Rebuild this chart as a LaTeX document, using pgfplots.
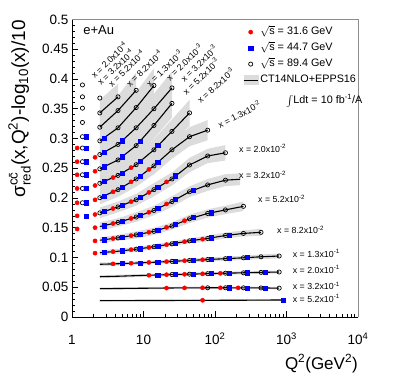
\documentclass[border=0pt]{standalone}
\usepackage{amsmath}
\usepackage{fontspec}
\setmainfont{Liberation Sans}
\usepackage{pgfplots}
\usepackage{pgfplotstable}
\pgfplotsset{compat=1.18}
\usepgfplotslibrary{fillbetween}
\definecolor{rred}{RGB}{255,0,0}
\definecolor{rblue}{RGB}{0,0,255}
\definecolor{bandgray}{HTML}{DCDCDC}
\definecolor{framegray}{HTML}{8C8C8C}

% theory curves: Q2, value, band low, band high
\pgfplotstableread{
q y lo hi
2.45 0.343 0.321 0.365
4.4 0.370 0.348 0.392
}\tA
\pgfplotstableread{
q y lo hi
2.45 0.319 0.297 0.341
4.4 0.347 0.322 0.372
7.9 0.381 0.351 0.411
}\tB
\pgfplotstableread{
q y lo hi
2.45 0.296 0.276 0.316
4.4 0.318 0.296 0.340
7.9 0.352 0.326 0.378
14 0.389 0.360 0.418
}\tC
\pgfplotstableread{
q y lo hi
2.45 0.273 0.255 0.291
4.4 0.290 0.270 0.310
7.9 0.318 0.296 0.340
14 0.350 0.325 0.375
25 0.385 0.357 0.413
}\tD
\pgfplotstableread{
q y lo hi
2.45 0.249 0.233 0.265
4.4 0.264 0.246 0.282
7.9 0.288 0.268 0.308
14 0.322 0.300 0.344
25 0.359 0.335 0.383
}\tE
\pgfplotstableread{
q y lo hi
2.45 0.2247 0.2107 0.2387
4.4 0.238 0.223 0.253
7.9 0.256 0.240 0.272
14 0.281 0.263 0.299
25 0.312 0.292 0.332
44 0.343 0.321 0.365
}\tF
\pgfplotstableread{
q y lo hi
2.45 0.2005 0.1895 0.2115
4.4 0.214 0.202 0.226
7.9 0.232 0.219 0.245
14 0.254 0.240 0.268
25 0.281 0.266 0.296
44 0.303 0.287 0.319
79 0.314 0.297 0.331
}\tG
\pgfplotstableread{
q y lo hi
2.45 0.175 0.166 0.184
4.4 0.185 0.176 0.194
7.9 0.197 0.187 0.207
14 0.214 0.203 0.225
25 0.232 0.221 0.243
44 0.2555 0.2435 0.2675
79 0.2706 0.2586 0.2826
140 0.276 0.263 0.289
}\tH
\pgfplotstableread{
q y lo hi
2.45 0.152 0.145 0.159
4.4 0.159 0.152 0.166
7.9 0.168 0.160 0.176
14 0.179 0.171 0.187
25 0.194 0.185 0.203
44 0.2105 0.2015 0.2195
79 0.222 0.212 0.232
140 0.230 0.220 0.240
225 0.2315 0.2215 0.2415
}\tI
\pgfplotstableread{
q y lo hi
2.45 0.129 0.124 0.134
4.4 0.133 0.128 0.138
7.9 0.138 0.132 0.144
14 0.144 0.138 0.150
25 0.153 0.147 0.159
44 0.165 0.158 0.172
79 0.174 0.167 0.181
140 0.180 0.173 0.187
250 0.186 0.178 0.194
}\tJ
\pgfplotstableread{
q y lo hi
2.45 0.108 0.104 0.112
4.4 0.1105 0.1065 0.1145
7.9 0.114 0.110 0.118
14 0.118 0.114 0.122
25 0.123 0.119 0.127
44 0.128 0.124 0.132
79 0.132 0.127 0.137
140 0.137 0.132 0.142
250 0.1405 0.1355 0.1455
440 0.1423 0.1363 0.1483
}\tK
\pgfplotstableread{
q y lo hi
2.45 0.0886 0.0856 0.0916
4.4 0.0895 0.0865 0.0925
7.9 0.0907 0.0877 0.0937
14 0.0920 0.0890 0.0950
25 0.0935 0.0905 0.0965
44 0.0950 0.0920 0.0980
79 0.0966 0.0931 0.1001
140 0.0980 0.0945 0.1015
250 0.0995 0.0960 0.1030
440 0.1012 0.0972 0.1052
790 0.1025 0.0985 0.1065
}\tL
\pgfplotstableread{
q y lo hi
2.45 0.0677 0.0652 0.0702
4.4 0.0685 0.0660 0.0710
7.9 0.0695 0.0670 0.0720
14 0.0705 0.0680 0.0730
25 0.0713 0.0688 0.0738
44 0.0720 0.0695 0.0745
79 0.0728 0.0703 0.0753
140 0.0736 0.0711 0.0761
250 0.0743 0.0718 0.0768
440 0.0750 0.0725 0.0775
790 0.0756 0.0731 0.0781
}\tM
\pgfplotstableread{
q y lo hi
2.45 0.0476 0.0456 0.0496
4.4 0.0479 0.0459 0.0499
7.9 0.0482 0.0462 0.0502
14 0.0485 0.0465 0.0505
25 0.0488 0.0468 0.0508
44 0.0490 0.0470 0.0510
79 0.0491 0.0471 0.0511
140 0.0491 0.0471 0.0511
250 0.0490 0.0470 0.0510
440 0.0488 0.0468 0.0508
790 0.0485 0.0465 0.0505
}\tN
\pgfplotstableread{
q y lo hi
2.45 0.0275 0.0260 0.0290
25 0.0278 0.0263 0.0293
250 0.0282 0.0267 0.0297
850 0.0286 0.0271 0.0301
}\tO

% pseudo-data, sqrt(s) = 89.4 GeV
\pgfplotstableread{
q y
1.4 0.390
1.4 0.370
1.4 0.351
1.4 0.327
1.4 0.303
1.4 0.284
1.4 0.261
1.4 0.239
1.4 0.216
1.4 0.192
2.45 0.368
2.45 0.343
4.4 0.370
2.45 0.319
4.4 0.347
7.9 0.381
2.45 0.296
4.4 0.318
7.9 0.352
14 0.389
2.45 0.273
4.4 0.290
7.9 0.318
14 0.350
25 0.385
2.45 0.249
4.4 0.264
7.9 0.288
14 0.322
25 0.359
2.45 0.2247
4.4 0.238
7.9 0.256
14 0.281
25 0.312
44 0.343
2.45 0.2005
4.4 0.214
7.9 0.232
14 0.254
25 0.281
44 0.303
79 0.314
2.45 0.175
4.4 0.185
7.9 0.197
14 0.214
25 0.232
44 0.2555
79 0.2706
140 0.276
4.4 0.159
7.9 0.168
14 0.179
25 0.194
44 0.2105
79 0.222
140 0.230
4.4 0.133
7.9 0.138
14 0.144
25 0.153
44 0.165
79 0.174
140 0.180
250 0.186
7.9 0.114
14 0.118
25 0.123
44 0.128
79 0.132
140 0.137
250 0.1405
440 0.1423
25 0.0935
44 0.0950
79 0.0966
140 0.0980
250 0.0995
440 0.1012
790 0.1025
25 0.0713
44 0.0720
79 0.0728
140 0.0736
250 0.0743
440 0.0750
790 0.0756
79 0.0491
140 0.0491
250 0.0490
440 0.0488
790 0.0485
}\topen

% pseudo-data, sqrt(s) = 31.6 GeV
\pgfplotstableread{
q y
1.18 0.284
1.18 0.261
1.18 0.239
1.18 0.216
1.18 0.192
1.18 0.170
1.18 0.148
2.1 0.2684
2.1 0.245
2.1 0.221
3.75 0.2344
6.7 0.2511
2.1 0.1969
3.75 0.2104
6.7 0.2271
11.9 0.2481
2.1 0.1723
3.75 0.1823
6.7 0.1938
11.9 0.2094
21 0.2271
2.1 0.1501
3.75 0.1571
6.7 0.1656
11.9 0.1760
21 0.1900
2.1 0.1279
3.75 0.1319
6.7 0.1367
11.9 0.1424
21 0.1506
37.5 0.1618
2.1 0.1073
3.75 0.1098
6.7 0.1131
11.9 0.1169
21 0.1216
37.5 0.1266
67 0.1309
3.75 0.0893
6.7 0.0904
11.9 0.0917
21 0.0931
37.5 0.0946
67 0.0962
11.9 0.0702
21 0.0711
37.5 0.0718
67 0.0726
119 0.0734
21 0.0487
37.5 0.0489
67 0.0491
119 0.0491
211 0.0490
67 0.0281
}\tred

% pseudo-data, sqrt(s) = 44.7 GeV
\pgfplotstableread{
q y
1.58 0.303
1.58 0.284
1.58 0.261
1.58 0.239
1.58 0.216
1.58 0.192
1.58 0.170
2.8 0.301
2.8 0.2769
5.0 0.2964
2.8 0.2525
5.0 0.2695
8.9 0.2960
2.8 0.2278
5.0 0.2421
8.9 0.2617
15.8 0.2881
2.8 0.2036
5.0 0.2181
8.9 0.2371
15.8 0.2602
2.8 0.1773
5.0 0.1878
8.9 0.2009
15.8 0.2181
28 0.2374
2.8 0.1536
5.0 0.1611
8.9 0.1705
15.8 0.1825
28 0.1978
50 0.2131
2.8 0.1299
5.0 0.1342
8.9 0.1394
15.8 0.1461
28 0.1558
50 0.1671
89 0.1754
2.8 0.1086
5.0 0.1113
8.9 0.1149
15.8 0.1192
28 0.1242
50 0.1289
89 0.1332
158 0.1378
5.0 0.0898
8.9 0.0910
15.8 0.0923
28 0.0938
50 0.0954
89 0.0969
158 0.0983
281 0.0999
15.8 0.0707
28 0.0715
50 0.0722
89 0.0730
158 0.0738
281 0.0745
500 0.0751
158 0.0491
281 0.0490
500 0.0487
890 0.0286
}\tblue

\newcommand\band[2]{%
  \addplot[draw=none,name path=u#1,forget plot] table[x=q,y=hi]{#2};
  \addplot[draw=none,name path=l#1,forget plot] table[x=q,y=lo]{#2};
  \addplot[fill=bandgray,draw=none,forget plot] fill between[of=u#1 and l#1];}
\newcommand\curve[1]{\addplot[black,line width=1.1bp,forget plot] table[x=q,y=y]{#1};}
\newcommand\xl[2]{x = #1x10\textsuperscript{#2}}

\begin{document}
\begin{tikzpicture}[lab/.style={font=\fontsize{8.8bp}{10bp}\selectfont,inner sep=0pt}]
\begin{axis}[name=ax,scale only axis,width=286bp,height=297.5bp,
  xmode=log,xmin=1,xmax=10000,ymin=0,ymax=0.5,clip=false,
  axis lines*=left,axis line style={black,line width=0.6bp},
  tick align=inside,tick style={black,line width=0.6bp},
  major tick length=6bp,minor tick length=3bp,
  xtick={1,10,100,1000,10000},
  xticklabels={1,10,10\textsuperscript{2},10\textsuperscript{3},10\textsuperscript{4}},
  minor xtick={2,3,4,5,6,7,8,9,20,30,40,50,60,70,80,90,200,300,400,500,600,700,800,900,2000,3000,4000,5000,6000,7000,8000,9000},
  ytick={0,0.05,0.1,0.15,0.2,0.25,0.3,0.35,0.4,0.45,0.5},
  yticklabels={0,0.05,0.1,0.15,0.2,0.25,0.3,0.35,0.4,0.45,0.5},
  minor y tick num=4,
  xticklabel style={font=\fontsize{13.5bp}{15bp}\selectfont,text height=11bp,text depth=0pt,yshift=-12.7bp},
  yticklabel style={font=\fontsize{13.5bp}{15bp}\selectfont},
  legend image code/.code={\draw[mark repeat=2,mark phase=2,#1] plot coordinates {(0bp,0bp) (7bp,0bp) (14bp,0bp)};},
  legend cell align=left,
  legend style={draw=none,fill=none,at={(1,0.982)},anchor=north east,inner sep=0pt,outer sep=0pt,
    font=\fontsize{10.8bp}{13bp}\selectfont,
    nodes={inner sep=2bp,text height=8bp,text depth=2.5bp},row sep=1.5bp}]

\addlegendimage{only marks,mark=*,mark size=2.1bp,color=rred}
\addlegendentry{$\sqrt{\text{s}}$ = 31.6 GeV}
\addlegendimage{only marks,mark=square*,mark size=2.1bp,color=rblue}
\addlegendentry{$\sqrt{\text{s}}$ = 44.7 GeV}
\addlegendimage{only marks,mark=o,mark size=2.1bp,black,line width=0.7bp}
\addlegendentry{$\sqrt{\text{s}}$ = 89.4 GeV}
\addlegendimage{legend image code/.code={\fill[bandgray] (0bp,-4.5bp) rectangle (14bp,4.5bp);
  \draw[black,line width=1.1bp] (0bp,0bp) -- (14bp,0bp);}}
\addlegendentry{CT14NLO+EPPS16}

\band{A}{\tA}\band{B}{\tB}\band{C}{\tC}\band{D}{\tD}\band{E}{\tE}
\band{F}{\tF}\band{G}{\tG}\band{H}{\tH}\band{I}{\tI}\band{J}{\tJ}
\band{K}{\tK}\band{L}{\tL}\band{M}{\tM}\band{N}{\tN}\band{O}{\tO}

\curve{\tA}\curve{\tB}\curve{\tC}\curve{\tD}\curve{\tE}
\curve{\tF}\curve{\tG}\curve{\tH}\curve{\tI}\curve{\tJ}
\curve{\tK}\curve{\tL}\curve{\tM}\curve{\tN}\curve{\tO}

\addplot[only marks,mark=o,mark size=2.1bp,black,line width=0.7bp,forget plot] table[x=q,y=y]{\topen};
\addplot[only marks,mark=square*,mark size=2.1bp,color=rblue,forget plot] table[x=q,y=y]{\tblue};
\addplot[only marks,mark=*,mark size=2.1bp,color=rred,forget plot] table[x=q,y=y]{\tred};

\draw[framegray,line width=0.6bp] (rel axis cs:0,1) -- (rel axis cs:1,1) -- (rel axis cs:1,0);

\node[anchor=base west,font=\fontsize{13bp}{15bp}\selectfont,inner sep=0pt] at (axis cs:1.43,0.475) {e+Au};
\node[anchor=west,font=\fontsize{10.8bp}{13bp}\selectfont,inner sep=0pt] at (axis cs:984,0.363) {$\int$Ldt = 10 fb\textsuperscript{-1}/A};

\node[lab,rotate=44,anchor=base west] at (axis cs:2.08,0.400) {\xl{2.0}{-4}};
\node[lab,rotate=44,anchor=base west] at (axis cs:2.55,0.388) {\xl{3.2}{-4}};
\node[lab,rotate=44,anchor=base west] at (axis cs:3.62,0.386) {\xl{5.2}{-4}};
\node[lab,rotate=44,anchor=base west] at (axis cs:6.45,0.386) {\xl{8.2}{-4}};
\node[lab,rotate=44,anchor=base west] at (axis cs:12.3,0.386) {\xl{1.3}{-3}};
\node[lab,rotate=44,anchor=base west] at (axis cs:23.4,0.396) {\xl{2.0}{-3}};
\node[lab,rotate=44,anchor=base west] at (axis cs:37.5,0.394) {\xl{3.2}{-3}};
\node[lab,rotate=44,anchor=base west] at (axis cs:40.0,0.372) {\xl{5.2}{-3}};
\node[lab,rotate=42,anchor=base west] at (axis cs:63,0.358) {\xl{8.2}{-3}};
\node[lab,rotate=27,anchor=base west] at (axis cs:117.5,0.317) {\xl{1.3}{-2}};
\node[lab,anchor=base west] at (axis cs:216.6,0.276) {\xl{2.0}{-2}};
\node[lab,anchor=base west] at (axis cs:216.6,0.232) {\xl{3.2}{-2}};
\node[lab,anchor=base west] at (axis cs:399,0.1916) {\xl{5.2}{-2}};
\node[lab,anchor=base west] at (axis cs:736,0.1395) {\xl{8.2}{-2}};
\node[lab,anchor=base west] at (axis cs:1221,0.1008) {\xl{1.3}{-1}};
\node[lab,anchor=base west] at (axis cs:1221,0.0739) {\xl{2.0}{-1}};
\node[lab,anchor=base west] at (axis cs:1221,0.0454) {\xl{3.2}{-1}};
\node[lab,anchor=base west] at (axis cs:1221,0.0252) {\xl{5.2}{-1}};

\node[rotate=90,anchor=base east,font=\fontsize{19bp}{21bp}\selectfont,inner sep=0pt]
  at (rel axis cs:-0.164,0.998) {σ$^{\text{cc̄}}_{\text{red}}$(x,Q$^{\text{2}}$)-log$_{\text{10}}$(x)/10};
\node[anchor=base east,font=\fontsize{17bp}{19bp}\selectfont,inner sep=0pt]
  at (rel axis cs:1,-0.175) {Q$^{\text{2}}$(GeV$^{\text{2}}$)};
\end{axis}
\pgfresetboundingbox
\path ([shift={(-72bp,-71bp)}]ax.south west) rectangle ([shift={(327bp,317bp)}]ax.south west);
\end{tikzpicture}
\end{document}
